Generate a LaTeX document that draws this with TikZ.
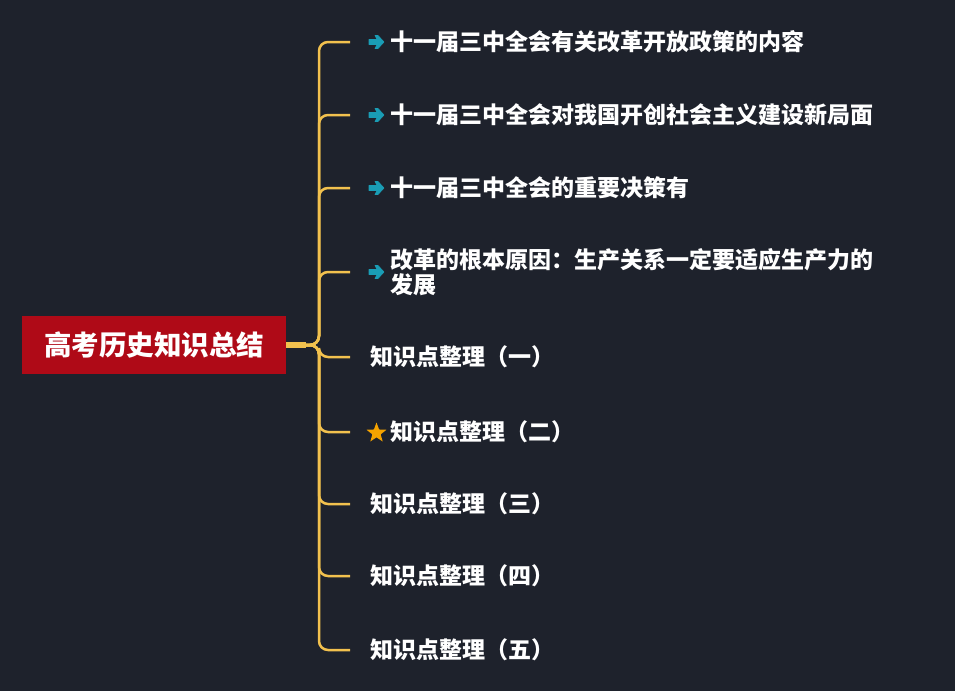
\documentclass[tikz,border=0pt]{standalone}
\usepackage{fontspec}
\newfontfamily\cjk{Noto Sans CJK SC}
\usetikzlibrary{arrows.meta,shapes.geometric}
\definecolor{bg}{HTML}{1E222C}
\definecolor{gold}{HTML}{F2C14E}
\definecolor{rootred}{HTML}{AF0A17}
\definecolor{teal}{HTML}{1A9DB5}
\definecolor{staror}{HTML}{F5A300}
\begin{document}
\begin{tikzpicture}[x=1pt,y=-1pt,
  rootbox/.style={fill=rootred, text=white, font=\cjk\bfseries\fontsize{27.5}{30}\selectfont, minimum width=264pt, minimum height=58pt, inner sep=0pt},
  item/.style={anchor=west, text=white, font=\cjk\bfseries\fontsize{23}{25}\selectfont, inner sep=0pt, align=left},
  branch/.style={draw=gold, line width=2.5pt, rounded corners=9pt},
  trunk/.style={draw=gold, line width=6pt},
  arrowicon/.style={fill=teal, draw=teal, line width=0.6pt, line join=round},
  staricon/.style={star, star points=5, star point ratio=2.4, fill=staror, minimum size=21pt, inner sep=0pt}
]
\fill[bg] (0,0) rectangle (955,691);
\node[rootbox] (root) at (154,345) {高考历史知识总结};
\coordinate (hub) at (319,345);
\coordinate (tend) at (306,345);

\node[item] (c1) at (390,42) {十一届三中全会有关改革开放政策的内容};
\node[item] (c2) at (390,115) {十一届三中全会对我国开创社会主义建设新局面};
\node[item] (c3) at (390,188) {十一届三中全会的重要决策有};
\node[item] (c4) at (390,272) {改革的根本原因：生产关系一定要适应生产力的\\发展};
\node[item] (c5) at (370,357) {知识点整理（一）};
\node[item] (c6) at (390,432) {知识点整理（二）};
\node[item] (c7) at (370,504) {知识点整理（三）};
\node[item] (c8) at (370,576) {知识点整理（四）};
\node[item] (c9) at (370,650) {知识点整理（五）};

\foreach \i/\y in {1/42,2/115,3/188,4/272,5/357,6/432,7/504,8/576,9/650}{
  \coordinate (e\i) at (350,\y);
}
\foreach \i/\y in {1/42,2/115,3/188,4/272}{
  \coordinate (a\i) at (369,\y);
  \draw[arrowicon] (a\i) ++(0,-2.5) -- ++(8,0) -- ++(-2,-4) -- ++(3,0) -- ++(6,6.5)
     -- ++(-6,6.5) -- ++(-3,0) -- ++(2,-4) -- ++(-8,0) -- cycle;
}
\node[staricon] (st) at (376.5,433) {};

\draw[trunk] (root.east) -- (tend);
\foreach \i in {1,...,9}{
  \draw[branch] (tend) -- (hub) |- (e\i);
}
\end{tikzpicture}
\end{document}
